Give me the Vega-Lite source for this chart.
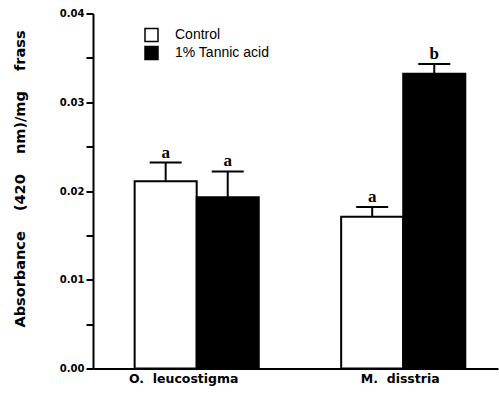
{
  "$schema": "https://vega.github.io/schema/vega-lite/v6.json",
  "width": 405,
  "height": 355,
  "autosize": {"type": "none"},
  "padding": {"left": 93, "top": 13.5, "right": 1, "bottom": 26.5},
  "background": "white",
  "config": {"view": {"stroke": null}, "font": "Liberation Sans"},
  "data": {
    "values": [
      {"species": "O. leucostigma", "treatment": "Control", "mean": 0.0211, "upper": 0.0232, "letter": "a"},
      {"species": "O. leucostigma", "treatment": "1% Tannic acid", "mean": 0.0193, "upper": 0.0222, "letter": "a"},
      {"species": "M. disstria", "treatment": "Control", "mean": 0.0171, "upper": 0.0182, "letter": "a"},
      {"species": "M. disstria", "treatment": "1% Tannic acid", "mean": 0.0332, "upper": 0.0343, "letter": "b"}
    ]
  },
  "encoding": {
    "x": {
      "field": "species",
      "type": "nominal",
      "sort": ["O. leucostigma", "M. disstria"],
      "scale": {"paddingInner": 0.399, "paddingOuter": 0.18, "align": 0.56},
      "axis": {
        "title": null,
        "ticks": false,
        "domainColor": "black",
        "domainWidth": 2,
        "labelFont": "DejaVu Sans",
        "labelFontWeight": "bold",
        "labelFontSize": 12.5,
        "labelColor": "black",
        "labelPadding": 4,
        "labelAngle": 0,
        "labelExpr": "replace(datum.label, '. ', '.\u00a0\u00a0')",
        "labelOffset": {"condition": {"test": "datum.value == 'O. leucostigma'", "value": -13}, "value": -3}
      }
    },
    "xOffset": {"field": "treatment", "type": "nominal", "sort": ["Control", "1% Tannic acid"]}
  },
  "layer": [
    {
      "mark": {"type": "bar", "stroke": "black", "strokeWidth": 2},
      "encoding": {
        "y": {
          "field": "mean",
          "type": "quantitative",
          "title": "Absorbance\u00a0\u00a0\u00a0\u00a0(420\u00a0\u00a0\u00a0\u00a0nm)/mg\u00a0\u00a0\u00a0\u00a0frass",
          "scale": {"domain": [0, 0.04]},
          "axis": {
            "values": [0, 0.005, 0.01, 0.015, 0.02, 0.025, 0.03, 0.035, 0.04],
            "labelExpr": "round(datum.value*1000) % 10 == 0 ? format(datum.value, '.2f') : ''",
            "labelOverlap": false,
            "labelFlush": false,
            "grid": false,
            "tickSize": 7,
            "tickWidth": 2,
            "tickColor": "black",
            "domainColor": "black",
            "domainWidth": 2,
            "labelFont": "DejaVu Sans",
            "labelFontWeight": "bold",
            "labelFontSize": 10,
            "labelColor": "black",
            "labelPadding": 2,
            "titleFont": "DejaVu Sans",
            "titleFontWeight": "bold",
            "titleFontSize": 14.5,
            "titleColor": "black",
            "titleX": -73,
            "titleY": 165,
            "titleAngle": 270,
            "titleAlign": "center",
            "titleBaseline": "middle",
            "encode": {
              "ticks": {"update": {"x2": {"signal": "round(datum.value*1000) % 10 == 0 ? -7 : -3"}}}
            }
          }
        },
        "fill": {
          "field": "treatment",
          "type": "nominal",
          "scale": {"domain": ["Control", "1% Tannic acid"], "range": ["white", "black"]},
          "legend": {
            "title": null,
            "orient": "none",
            "legendX": 51,
            "legendY": 14,
            "symbolType": "square",
            "symbolSize": 169,
            "symbolStrokeColor": "black",
            "symbolStrokeWidth": 1.5,
            "labelFont": "Liberation Sans",
            "labelFontSize": 14,
            "labelColor": "black",
            "labelOffset": 16,
            "rowPadding": -1
          }
        }
      }
    },
    {
      "mark": {"type": "rule", "strokeWidth": 2, "color": "black"},
      "encoding": {
        "y": {"field": "mean", "type": "quantitative", "title": "Absorbance\u00a0\u00a0\u00a0\u00a0(420\u00a0\u00a0\u00a0\u00a0nm)/mg\u00a0\u00a0\u00a0\u00a0frass"},
        "y2": {"field": "upper"}
      }
    },
    {
      "mark": {"type": "tick", "thickness": 2, "size": 32, "color": "black", "opacity": 1},
      "encoding": {
        "y": {"field": "upper", "type": "quantitative", "title": "Absorbance\u00a0\u00a0\u00a0\u00a0(420\u00a0\u00a0\u00a0\u00a0nm)/mg\u00a0\u00a0\u00a0\u00a0frass"}
      }
    },
    {
      "mark": {"type": "text", "font": "Liberation Serif", "fontWeight": "bold", "fontSize": 17, "baseline": "alphabetic", "dy": -5, "color": "black"},
      "encoding": {
        "y": {"field": "upper", "type": "quantitative", "title": "Absorbance\u00a0\u00a0\u00a0\u00a0(420\u00a0\u00a0\u00a0\u00a0nm)/mg\u00a0\u00a0\u00a0\u00a0frass"},
        "text": {"field": "letter"}
      }
    }
  ]
}
